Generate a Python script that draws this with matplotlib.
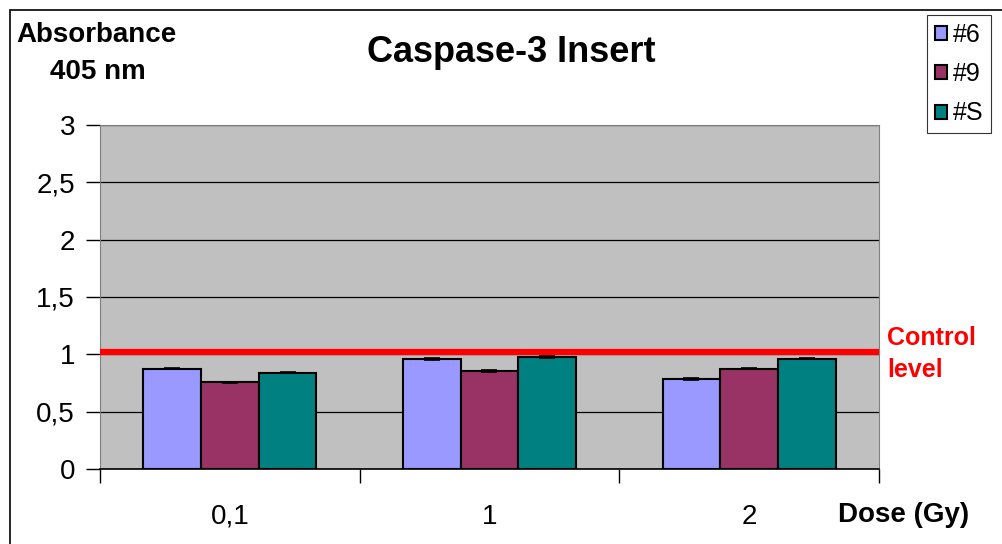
import matplotlib
matplotlib.use("Agg")
import matplotlib.pyplot as plt
import numpy as np
from matplotlib.patches import Rectangle

plt.rcParams['font.family'] = ['Liberation Sans', 'DejaVu Sans']

# data
doses = ['0,1', '1', '2']
series = ['#6', '#9', '#S']
val_6 = [0.875, 0.96, 0.785]
val_9 = [0.755, 0.855, 0.875]
val_s = [0.84, 0.975, 0.96]
err_6 = [0.005, 0.012, 0.005]
err_9 = [0.005, 0.01, 0.005]
err_s = [0.005, 0.01, 0.005]
control_level = 1.02
y_ticks = [0, 0.5, 1, 1.5, 2, 2.5, 3]
y_labels = ['0', '0,5', '1', '1,5', '2', '2,5', '3']

colors = ['#9999FF', '#993366', '#008080']

W, H = 1002, 544
fig = plt.figure(figsize=(W / 100, H / 100), dpi=100)
ax = fig.add_axes([100 / W, (H - 469) / H, 779 / W, 344 / H])
ax.set_facecolor('#C0C0C0')

x = np.arange(len(doses))
bw = 1 / 4.5
vals = [val_6, val_9, val_s]
errs = [err_6, err_9, err_s]
handles = []
for i in range(3):
    b = ax.bar(x + (i - 1) * bw, vals[i], bw, color=colors[i], edgecolor='black',
               linewidth=1.5, zorder=3, label=series[i])
    ax.errorbar(x + (i - 1) * bw, vals[i], yerr=errs[i], fmt='none', ecolor='black',
                elinewidth=1, capsize=6, capthick=1.2, zorder=4)
    handles.append(b)

ax.axhline(control_level, color='#FF0000', lw=4.5, zorder=5)

ax.set_xlim(-0.5, 2.5)
ax.set_ylim(0, 3)
ax.set_yticks(y_ticks)
ax.set_yticklabels(y_labels, fontsize=20)
ax.yaxis.grid(True, color='black', lw=0.9, zorder=1)
ax.set_axisbelow(True)
ax.tick_params(axis='y', length=10, width=1, pad=8)

ax.set_xticks(x)
ax.set_xticklabels(doses, fontsize=20)
ax.tick_params(axis='x', which='major', length=0, pad=25)
ax.set_xticks([-0.5, 0.5, 1.5, 2.5], minor=True)
ax.tick_params(axis='x', which='minor', length=10, width=1, color='black')

for s in ['top', 'right']:
    ax.spines[s].set_color('#808080')
ax.spines['left'].set_color('#808080')
ax.spines['bottom'].set_color('black')
ax.spines['bottom'].set_linewidth(1.2)

fig.text(511 / W, 1 - 53 / H, 'Caspase-3 Insert', fontsize=26, fontweight='bold',
         ha='center', va='center')
fig.text(96 / W, 1 - 35 / H, 'Absorbance', fontsize=20, fontweight='bold',
         ha='center', va='center')
fig.text(98 / W, 1 - 72 / H, '405 nm', fontsize=20, fontweight='bold',
         ha='center', va='center')
fig.text(904 / W, 1 - 515 / H, 'Dose (Gy)', fontsize=20, fontweight='bold',
         ha='center', va='center')
fig.text(887 / W, 1 - 338 / H, 'Control', fontsize=18, fontweight='bold',
         color='#FF0000', ha='left', va='center')
fig.text(887 / W, 1 - 370 / H, 'level', fontsize=18, fontweight='bold',
         color='#FF0000', ha='left', va='center')

leg = fig.legend(handles=handles, labels=series, loc='upper left',
                 bbox_to_anchor=(927 / W, 1 - 15 / H), fontsize=18,
                 frameon=True, fancybox=False, edgecolor='black',
                 handlelength=0.5, handleheight=0.5, handletextpad=0.25,
                 labelspacing=0.62, borderpad=0.3, borderaxespad=0)
leg.get_frame().set_linewidth(0.8)

# outer chart frame
fig.patches.append(Rectangle((10 / W, -0.1), 1.2, 1 - 10 / H + 0.1,
                             transform=fig.transFigure, fill=False,
                             edgecolor='black', lw=1.2))

fig.savefig('out.png', dpi=100)
